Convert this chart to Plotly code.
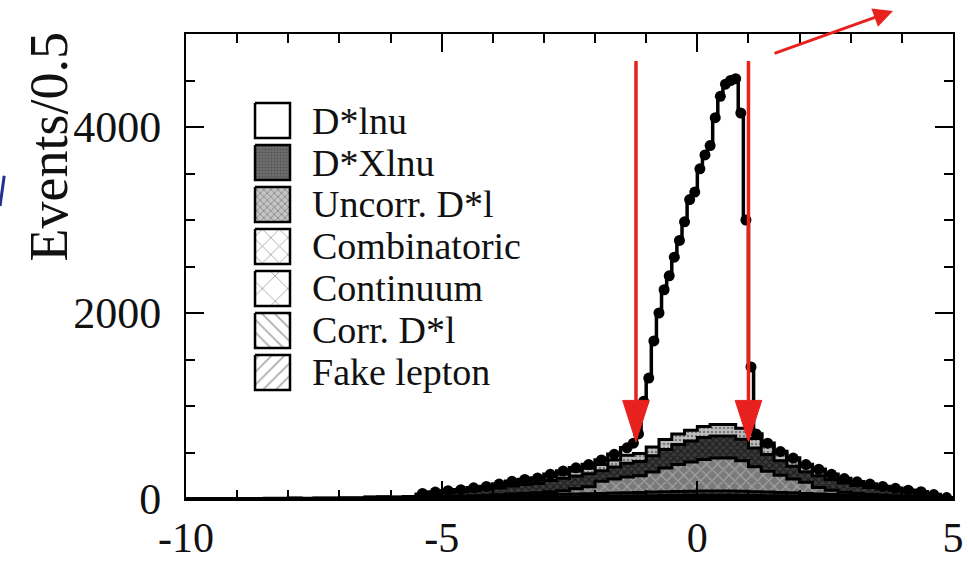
import numpy as np
import plotly.graph_objects as go

# ---------------- data ----------------
# MC background components, 0.25-wide bins from -8.5 to 5.0 (54 bins)
bin_lo, bin_hi, bin_w = -8.5, 5.0, 0.25
fake_lepton = [0, 0, 0, 0, 0, 0, 0, 0, 1, 1, 1, 1, 2, 3, 3, 4, 4, 5, 5, 6, 6, 7, 8, 8, 9, 10, 11,
               12, 13, 14, 15, 16, 17, 18, 18, 18, 18, 17, 16, 15, 14, 13, 12, 11, 10, 9, 8, 7, 6,
               5, 4, 4, 2, 1]
corr_dstarl = [0, 0, 0, 0, 0, 0, 1, 1, 2, 2, 2, 2, 4, 5, 6, 6, 7, 8, 9, 10, 11, 12, 13, 14, 15, 16,
               17, 18, 19, 20, 21, 22, 23, 24, 24, 24, 24, 23, 22, 21, 20, 19, 17, 16, 14, 12, 11,
               10, 9, 8, 7, 6, 4, 1]
continuum = [2, 2, 3, 2, 3, 3, 3, 3, 5, 6, 5, 6, 10, 12, 14, 15, 17, 18, 20, 22, 24, 25, 27, 28, 30,
             31, 32, 34, 35, 36, 38, 40, 41, 42, 43, 43, 43, 42, 40, 38, 36, 34, 31, 28, 25, 22, 19,
             17, 15, 13, 11, 9, 6, 2]
combinatoric = [2, 2, 2, 2, 2, 2, 3, 3, 5, 6, 5, 7, 4, 5, 6, 7, 8, 10, 12, 15, 18, 22, 30, 40,
                55, 75, 130, 150, 170, 180, 215, 255, 290, 315, 340, 355, 355, 330, 270, 225, 185,
                150, 120, 70, 45, 30, 22, 15, 12, 10, 8, 6, 4, 1]
uncorr_dstarl = [2, 2, 3, 2, 3, 3, 3, 3, 5, 6, 5, 7, 25, 33, 41, 46, 54, 62, 73, 87, 97, 102, 120, 132,
                 138, 140, 115, 130, 148, 152, 175, 200, 215, 225, 235, 238, 238, 230, 200, 180, 155,
                 135, 112, 126, 115, 98, 86, 76, 66, 56, 45, 38, 22, 8]
dstar_x_lnu = [2, 2, 2, 2, 2, 2, 2, 2, 4, 4, 4, 5, 10, 12, 15, 17, 20, 22, 26, 30, 34, 37, 42, 48, 53,
               58, 65, 76, 85, 88, 96, 107, 114, 116, 120, 122, 122, 118, 102, 91, 80, 69, 58, 49, 41,
               34, 29, 25, 22, 18, 15, 12, 7, 2]

# Data points: 0.25 bins in the tails (from -5.375), 0.1 bins in the signal region
data_y_left = [60, 75, 90, 100, 120, 135, 160, 190, 210, 225, 265, 300, 335, 370, 420, 480, 550]
data_y_signal = [600, 700, 1050, 1300, 1700, 2000, 2250, 2400, 2600, 2780, 2980, 3220, 3300, 3550,
                 3700, 3800, 4100, 4330, 4460, 4500, 4520, 4150, 3000, 1420, 700]
data_y_right = [600, 510, 440, 370, 320, 265, 220, 185, 160, 135, 115, 95, 78, 48, 15]

cut_values = [-1.2, 1.0]

legend_names = ["D*lnu", "D*Xlnu", "Uncorr. D*l", "Combinatoric", "Continuum", "Corr. D*l", "Fake lepton"]
x_ticks = [-10, -5, 0, 5]
x_ticktext = ["-10", "-5", "0", "5"]
y_ticks = [0, 2000, 4000]
y_ticktext = ["0", "2000", "4000"]

# ---------------- styles ----------------
SERIF = "Liberation Serif"
RED = "#e8211e"
# how the stacked areas look in the plot
area_styles = {
    "Fake lepton":   dict(shape="/", fg="#000000", bg="#303030", size=5, sol=0.3),
    "Corr. D*l":     dict(shape="\\", fg="#000000", bg="#404040", size=5, sol=0.3),
    "Continuum":     dict(shape="x", fg="#000000", bg="#555555", size=6, sol=0.3),
    "Combinatoric":  dict(shape="x", fg="#d8d8d8", bg="#7a7a7a", size=8, sol=0.25),
    "Uncorr. D*l":   dict(shape="x", fg="#000000", bg="#3a3a3a", size=5, sol=0.45),
    "D*Xlnu":        dict(shape=".", fg="#333333", bg="#bdbdbd", size=4, sol=0.3),
}
# how the legend swatches look
legend_styles = {
    "D*lnu":         dict(shape="", fg="#000000", bg="#ffffff", size=8, sol=0.2),
    "D*Xlnu":        dict(shape=".", fg="#333333", bg="#707070", size=3, sol=0.4),
    "Uncorr. D*l":   dict(shape="x", fg="#444444", bg="#c4c4c4", size=5, sol=0.3),
    "Combinatoric":  dict(shape="x", fg="#555555", bg="#ffffff", size=12, sol=0.15),
    "Continuum":     dict(shape="x", fg="#555555", bg="#ffffff", size=18, sol=0.1),
    "Corr. D*l":     dict(shape="\\", fg="#555555", bg="#ffffff", size=9, sol=0.18),
    "Fake lepton":   dict(shape="/", fg="#555555", bg="#ffffff", size=9, sol=0.18),
}

fig = go.Figure()

edges = np.round(np.arange(bin_lo, bin_hi + bin_w / 2, bin_w), 4)
layers = [("Fake lepton", fake_lepton), ("Corr. D*l", corr_dstarl), ("Continuum", continuum),
          ("Combinatoric", combinatoric), ("Uncorr. D*l", uncorr_dstarl), ("D*Xlnu", dstar_x_lnu)]
cum = np.zeros(len(fake_lepton))
for i, (name, vals) in enumerate(layers):
    cum = cum + np.array(vals, dtype=float)
    st = area_styles[name]
    ys = list(cum) + [cum[-1]]
    fig.add_trace(go.Scatter(
        x=edges, y=ys, mode="lines", line=dict(shape="hv", color="black", width=3),
        fill="tozeroy" if i == 0 else "tonexty",
        fillcolor=st["bg"],
        fillpattern=dict(shape=st["shape"], fgcolor=st["fg"], bgcolor=st["bg"],
                         size=st["size"], solidity=st["sol"]),
        showlegend=False, hoverinfo="skip"))

# data
centers = np.round(edges[:-1] + bin_w / 2, 4)
x_left = [c for c in centers if -5.5 < c < -1.3]
x_right = [c for c in centers if c > 1.2]
x_sig = list(np.round(np.arange(-1.25, 1.2, 0.1), 3))
data_x = list(x_left) + x_sig + list(x_right)
data_y = data_y_left + data_y_signal + data_y_right
fig.add_trace(go.Scatter(
    x=data_x, y=data_y, mode="lines+markers",
    line=dict(shape="hvh", color="black", width=3.5),
    marker=dict(symbol="circle", size=11, color="black"),
    showlegend=False, hoverinfo="skip"))

# ---------------- red arrows at the cuts ----------------
arrow_top, arrow_tip, head_base, head_half = 4710, 615, 1060, 0.26
shapes = []
for c in cut_values:
    shapes.append(dict(type="line", xref="x", yref="y", x0=c, x1=c, y0=arrow_top, y1=head_base,
                       line=dict(color=RED, width=3.5)))
    shapes.append(dict(type="path", xref="x", yref="y",
                       path=f"M {c - head_half},{head_base} L {c + head_half},{head_base} L {c},{arrow_tip} Z",
                       fillcolor=RED, line=dict(color=RED, width=1)))
# thicker bottom axis line
shapes.append(dict(type="line", xref="paper", yref="paper", x0=0, x1=1, y0=0, y1=0,
                   line=dict(color="black", width=4)))
# blue fragment at the left edge (cropped slide artefact)
shapes.append(dict(type="line", xref="paper", yref="paper", x0=-0.2425, y0=0.63, x1=-0.237, y1=0.695,
                   line=dict(color="#23308f", width=3)))

# ---------------- custom legend (overlay axes in 0..1 units) ----------------
lx0, lx1 = 0.090, 0.1356
row_top0, row_step, box_h = 0.8516, 0.0903, 0.0753
annotations = []
for i, name in enumerate(legend_names):
    yt = row_top0 - i * row_step
    yb = yt - box_h
    st = legend_styles[name]
    fig.add_trace(go.Scatter(
        x=[lx0, lx1, lx1, lx0, lx0], y=[yt, yt, yb, yb, yt], xaxis="x2", yaxis="y2",
        mode="lines", fill="toself", fillcolor=st["bg"],
        fillpattern=dict(shape=st["shape"], fgcolor=st["fg"], bgcolor=st["bg"],
                         size=st["size"], solidity=st["sol"]),
        line=dict(color="black", width=2.5), showlegend=False, hoverinfo="skip"))
    annotations.append(dict(x=0.1617, y=(yt + yb) / 2, xref="x2", yref="y2", text=name,
                            showarrow=False, xanchor="left", yanchor="middle",
                            font=dict(family=SERIF, size=38, color="#111111")))

# y-axis title
annotations.append(dict(x=-0.178, y=0.757, xref="paper", yref="paper", text="Events/0.5",
                        textangle=-90, showarrow=False, xanchor="center", yanchor="middle",
                        font=dict(family=SERIF, size=54, color="#111111")))
# top-right red arrow
annotations.append(dict(x=0.9218, y=1.0495, xref="paper", yref="paper", ax=-120, ay=43,
                        showarrow=True, arrowhead=2, arrowsize=1.3, arrowwidth=3, arrowcolor=RED,
                        text=""))

axis_common = dict(showgrid=False, zeroline=False, showline=True, linecolor="black", linewidth=2,
                   mirror="ticks", ticks="inside", ticklen=18, tickwidth=2, tickcolor="black",
                   automargin=False)
fig.update_layout(
    width=968, height=564,
    margin=dict(l=186, r=15, t=34, b=65),
    paper_bgcolor="white", plot_bgcolor="white",
    xaxis=dict(range=[-10, 5], tickvals=x_ticks, ticktext=x_ticktext, ticklabelstandoff=1,
               tickfont=dict(family=SERIF, size=42, color="#111111"),
               minor=dict(dtick=1, tick0=0, ticklen=9, tickwidth=2, ticks="inside", tickcolor="black"),
               **axis_common),
    yaxis=dict(range=[0, 5000], tickvals=y_ticks, ticktext=y_ticktext, ticklabelstandoff=14,
               tickfont=dict(family=SERIF, size=44, color="#111111"),
               minor=dict(dtick=500, tick0=0, ticklen=9, tickwidth=2, ticks="inside", tickcolor="black"),
               **axis_common),
    xaxis2=dict(overlaying="x", range=[0, 1], visible=False, anchor="y2"),
    yaxis2=dict(overlaying="y", range=[0, 1], visible=False, anchor="x2"),
    shapes=shapes,
    annotations=annotations,
    showlegend=False,
)

fig.write_html("out.html")
